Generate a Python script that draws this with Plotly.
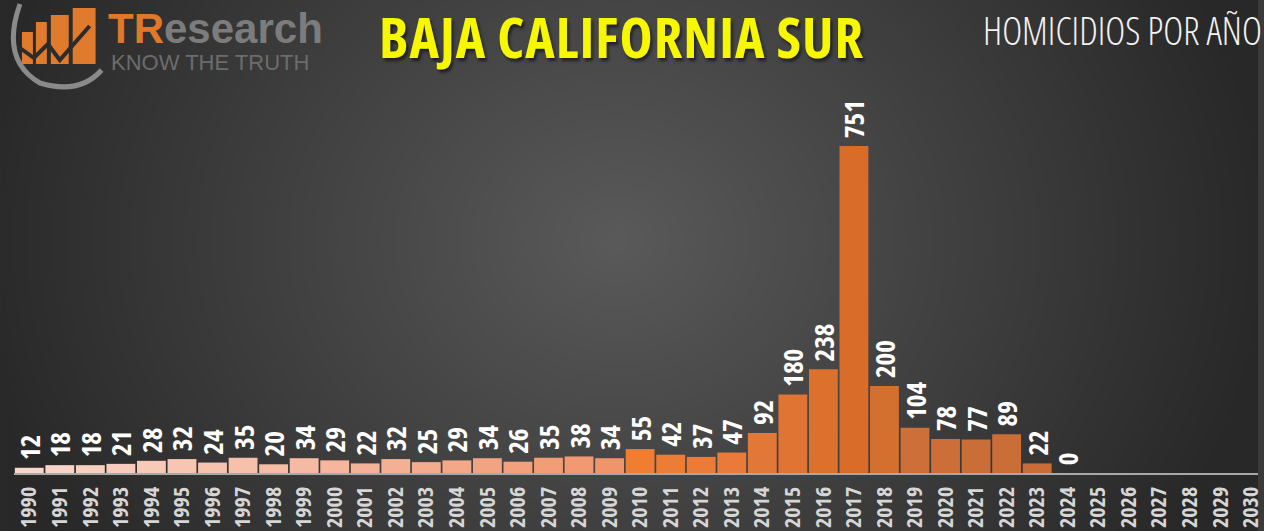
import base64, struct, zlib
import numpy as np
import plotly.graph_objects as go

# ---------------- data ----------------
years = [str(y) for y in range(1990, 2031)]
homicides = [12, 18, 18, 21, 28, 32, 24, 35, 20, 34, 29, 22, 32, 25, 29, 34, 26, 35, 38, 34,
             55, 42, 37, 47, 92, 180, 238, 751, 200, 104, 78, 77, 89, 22, 0,
             None, None, None, None, None, None]
title_text = "BAJA CALIFORNIA SUR"
subtitle_text = "HOMICIDIOS POR AÑO"

W, H = 1264, 531
ML, MR, MT, MB = 14, 0, 60, 58
PW, PH = W - ML - MR, H - MT - MB

COND = "font-stretch:75%"
FAM = "Open Sans, Roboto, DejaVu Sans, sans-serif"


def cond(s, extra=""):
    return "<span style='%s;%s'>%s</span>" % (COND, extra, s)


# ---------------- background image (radial gradient) ----------------
def make_bg():
    yy, xx = np.mgrid[0:H, 0:W].astype(float)
    cx, cy, rx, ry = 620.0, 240.0, 660.0, 560.0
    d = np.sqrt(((xx - cx) / rx) ** 2 + ((yy - cy) / ry) ** 2)
    d = np.clip(d, 0, 1)
    v = 40 + 50 * (1 - d)
    img = np.clip(v, 0, 255).astype(np.uint8)
    rgb = np.stack([img, img, img], axis=-1)
    raw = b"".join(b"\x00" + rgb[r].tobytes() for r in range(H))

    def chunk(tag, data):
        c = struct.pack(">I", len(data)) + tag + data
        return c + struct.pack(">I", zlib.crc32(tag + data) & 0xFFFFFFFF)
    png = b"\x89PNG\r\n\x1a\n" + chunk(b"IHDR", struct.pack(">IIBBBBB", W, H, 8, 2, 0, 0, 0)) \
        + chunk(b"IDAT", zlib.compress(raw, 9)) + chunk(b"IEND", b"")
    return "data:image/png;base64," + base64.b64encode(png).decode()


# ---------------- bar colours ----------------
def hx(c):
    return np.array([int(c[i:i + 2], 16) for i in (1, 3, 5)], float)


anchors = {0: "#f9d6c9", 12: "#f4b094", 19: "#f0956a", 20: "#ef7d32", 23: "#e97a3a",
           24: "#e27838", 27: "#d96c28", 28: "#d4702f", 29: "#cc6f38", 33: "#c96d38", 40: "#c96d38"}
keys = sorted(anchors)
colors = []
for i in range(len(years)):
    for a, b in zip(keys, keys[1:]):
        if a <= i <= b:
            t = (i - a) / (b - a) if b > a else 0
            c = hx(anchors[a]) * (1 - t) + hx(anchors[b]) * t
            colors.append("rgb(%d,%d,%d)" % tuple(c.round()))
            break

labels = ["" if v is None else cond(" " + str(v)) for v in homicides]
ticktext = [cond(y) for y in years]

fig = go.Figure()
fig.add_trace(go.Bar(
    x=years, y=homicides, marker=dict(color=colors, line=dict(width=0)),
    text=labels, textposition="outside", textangle=-90, constraintext="none",
    textfont=dict(family=FAM, size=27, color="white", weight="bold"),
    cliponaxis=False, hoverinfo="x+y",
))


def px(x):
    return (x - ML) / PW


def py(y):
    return (H - MB - y) / PH


shapes = []
# logo bars
for (x0, y0, x1, y1) in [(22, 32, 33, 64), (36, 22, 47, 64), (51, 15, 69, 64), (73, 8, 96, 64)]:
    shapes.append(dict(type="rect", xref="paper", yref="paper", x0=px(x0), x1=px(x1),
                       y0=py(y1), y1=py(y0), fillcolor="#e07a2c", line=dict(width=0), layer="above"))
# zigzag line across logo
zz = [(20, 48), (34, 58), (48, 44), (60, 60), (90, 26)]
path = "M " + " L ".join("%f,%f" % (px(a), py(b)) for a, b in zz)
shapes.append(dict(type="path", xref="paper", yref="paper", path=path,
                   line=dict(color="#2c2c2c", width=4)))
# arc
apath = "M %f,%f Q %f,%f %f,%f Q %f,%f %f,%f" % (
    px(20), py(4), px(0), py(60), px(40), py(83), px(80), py(95), px(102), py(70))
shapes.append(dict(type="path", xref="paper", yref="paper", path=apath,
                   line=dict(color="#8a8a8a", width=5)))

annotations = [
    dict(text=cond(title_text, "letter-spacing:1px"), x=px(624), y=py(36), xref="paper", yref="paper",
         showarrow=False, xanchor="center", yanchor="middle",
         font=dict(family=FAM, size=56, color="#f7f700", weight="bold",
                   shadow="2px 3px 3px rgba(0,0,0,0.55)")),
    dict(text=cond(subtitle_text), x=px(1270), y=py(30), xref="paper", yref="paper", showarrow=False,
         xanchor="right", yanchor="middle",
         font=dict(family=FAM, size=38, color="#f2f2f2", weight=300)),
    dict(text="<span style='color:#e0782a'>TR</span>esearch", x=px(106), y=py(28), xref="paper",
         yref="paper", showarrow=False, xanchor="left", yanchor="middle",
         font=dict(family="Liberation Sans, Arial, sans-serif", size=42, color="#7c7c7c", weight="bold")),
    dict(text="KNOW THE TRUTH", x=px(109), y=py(62), xref="paper", yref="paper", showarrow=False,
         xanchor="left", yanchor="middle",
         font=dict(family="Liberation Sans, Arial, sans-serif", size=22, color="#6c6c6c")),
]

fig.update_layout(
    width=W, height=H, margin=dict(l=ML, r=MR, t=MT, b=MB, pad=0),
    paper_bgcolor="#3a3a3a", plot_bgcolor="rgba(0,0,0,0)",
    showlegend=False, bargap=0.055,
    images=[dict(source=make_bg(), xref="paper", yref="paper", x=-ML / PW, y=1 + MT / PH,
                 sizex=W / PW, sizey=H / PH, sizing="stretch", xanchor="left", yanchor="top",
                 layer="below")],
    shapes=shapes, annotations=annotations,
    xaxis=dict(type="category", range=[-0.5, 40.23],
               tickmode="array", tickvals=years, ticktext=ticktext,
               showgrid=False, zeroline=False, showline=True, linecolor="#a8a8a8", linewidth=2,
               tickangle=-90, ticks="", ticklabelstandoff=3,
               tickfont=dict(family=FAM, size=22, color="#d6d6d6", weight="bold"),
               fixedrange=True),
    yaxis=dict(range=[0, 948.5], visible=False, fixedrange=True),
)

fig.write_html("out.html", config={"displayModeBar": False},
               post_script="document.body.style.margin='0';")
